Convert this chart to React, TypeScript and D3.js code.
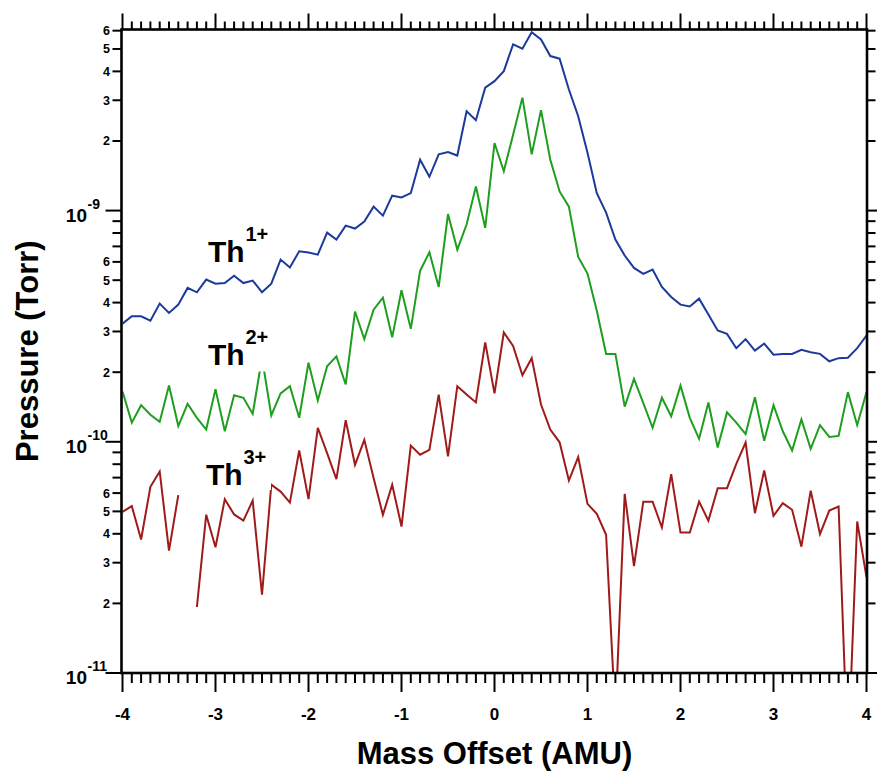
import React from 'react';
import * as d3 from 'd3';

const WIDTH = 877;
const HEIGHT = 773;

// Mass offset grid (AMU), one sample every 0.1 AMU from -4 to 4
const massOffset: number[] = d3.range(81).map((i) => Math.round((-4 + i * 0.1) * 10) / 10);

// Partial pressure of each thorium charge state (Torr)
const th1Pressure: number[] = [
  3.24e-10, 3.49e-10, 3.49e-10, 3.34e-10, 3.96e-10, 3.61e-10, 3.92e-10, 4.63e-10, 4.43e-10, 5.03e-10,
  4.83e-10, 4.86e-10, 5.23e-10, 4.86e-10, 4.98e-10, 4.43e-10, 4.83e-10, 6.14e-10, 5.67e-10, 6.67e-10,
  6.58e-10, 6.45e-10, 8.03e-10, 7.49e-10, 8.61e-10, 8.36e-10, 8.96e-10, 1.04e-9, 9.51e-10, 1.16e-9,
  1.14e-9, 1.19e-9, 1.66e-9, 1.4e-9, 1.75e-9, 1.79e-9, 1.73e-9, 2.69e-9, 2.46e-9, 3.4e-9,
  3.63e-9, 4.01e-9, 5.23e-9, 5.01e-9, 5.91e-9, 5.5e-9, 4.66e-9, 4.54e-9, 3.34e-9, 2.56e-9,
  1.78e-9, 1.19e-9, 9.8e-10, 7.49e-10, 6.39e-10, 5.65e-10, 5.32e-10, 5.56e-10, 4.67e-10, 4.23e-10,
  3.92e-10, 3.85e-10, 4.16e-10, 3.55e-10, 3.03e-10, 2.93e-10, 2.54e-10, 2.78e-10, 2.48e-10, 2.66e-10,
  2.38e-10, 2.4e-10, 2.4e-10, 2.5e-10, 2.44e-10, 2.4e-10, 2.23e-10, 2.3e-10, 2.31e-10, 2.54e-10,
  2.88e-10,
];

const th2Pressure: number[] = [
  1.65e-10, 1.21e-10, 1.44e-10, 1.31e-10, 1.22e-10, 1.75e-10, 1.17e-10, 1.46e-10, 1.27e-10, 1.13e-10,
  1.69e-10, 1.11e-10, 1.59e-10, 1.55e-10, 1.32e-10, 2.31e-10, 1.3e-10, 1.62e-10, 1.74e-10, 1.27e-10,
  2.2e-10, 1.51e-10, 2.12e-10, 2.34e-10, 1.77e-10, 3.66e-10, 2.78e-10, 3.73e-10, 4.2e-10, 2.83e-10,
  4.52e-10, 3.08e-10, 5.49e-10, 6.6e-10, 4.67e-10, 9.66e-10, 6.78e-10, 8.7e-10, 1.27e-9, 8.42e-10,
  1.96e-9, 1.48e-9, 2.13e-9, 3.08e-9, 1.75e-9, 2.72e-9, 1.66e-9, 1.21e-9, 1.04e-9, 6.3e-10,
  5.34e-10, 3.69e-10, 2.4e-10, 2.4e-10, 1.42e-10, 1.87e-10, 1.47e-10, 1.15e-10, 1.55e-10, 1.29e-10,
  1.75e-10, 1.27e-10, 1.03e-10, 1.48e-10, 9.45e-11, 1.34e-10, 1.21e-10, 1.08e-10, 1.56e-10, 1.01e-10,
  1.44e-10, 1.11e-10, 9.17e-11, 1.25e-10, 9.33e-11, 1.18e-10, 1.05e-10, 1.06e-10, 1.64e-10, 1.18e-10,
  1.64e-10,
];

// null marks a sample with no positive reading
const th3Pressure: (number | null)[] = [
  4.98e-11, 5.27e-11, 3.78e-11, 6.39e-11, 7.44e-11, 3.38e-11, 5.88e-11, null, 1.93e-11, 4.84e-11,
  3.5e-11, 5.65e-11, 4.85e-11, 4.56e-11, 5.57e-11, 2.18e-11, 6.52e-11, 6.09e-11, 5.46e-11, 9.17e-11,
  5.65e-11, 1.15e-10, 8.94e-11, 6.9e-11, 1.24e-10, 7.95e-11, 1.02e-10, 6.97e-11, 4.83e-11, 6.52e-11,
  4.3e-11, 9.63e-11, 8.79e-11, 9.23e-11, 1.6e-10, 8.64e-11, 1.74e-10, 1.6e-10, 1.48e-10, 2.69e-10,
  1.62e-10, 2.97e-10, 2.6e-10, 1.94e-10, 2.3e-10, 1.45e-10, 1.13e-10, 9.95e-11, 6.8e-11, 8.59e-11,
  5.39e-11, 4.88e-11, 3.96e-11, 6.4e-12, 5.96e-11, 2.9e-11, 5.51e-11, 5.51e-11, 4.26e-11, 7.25e-11,
  4.05e-11, 4.05e-11, 5.51e-11, 4.56e-11, 6.3e-11, 6.3e-11, 8.03e-11, 9.93e-11, 4.91e-11, 7.51e-11,
  4.78e-11, 5.43e-11, 5.08e-11, 3.52e-11, 6.15e-11, 3.99e-11, 5.04e-11, 5.25e-11, 4.2e-12, 4.52e-11,
  2.6e-11,
];

const xTickValues: number[] = [-4, -3, -2, -1, 0, 1, 2, 3, 4];
const labelledMantissas: number[] = [2, 3, 4, 5, 6];
const chargeStates: string[] = ['1+', '2+', '3+'];

const FONT = '"Liberation Sans", Arial, Helvetica, sans-serif';

export default function App() {
  const left = 122.5;
  const right = 866.5;
  const top = 29.5;
  const bottom = 673;

  const x = d3.scaleLinear().domain([-4, 4]).range([left, right]);
  const y = d3.scaleLog().domain([1e-11, 6.07e-9]).range([bottom, top]);

  const line = d3
    .line<number | null>()
    .defined((d) => d != null && d > 0)
    .x((_, i) => x(massOffset[i]))
    .y((d) => y(d as number));

  const series = [
    { values: th1Pressure as (number | null)[], color: '#1b3a9c' },
    { values: th2Pressure as (number | null)[], color: '#1e9e1e' },
    { values: th3Pressure, color: '#a01a1a' },
  ];

  const yTicks = y.ticks();
  const minorX = d3.range(81).map((i) => -4 + i * 0.1);

  const labelPos = [
    { x: 208, y: 262, box: [203, 228, 72, 40] },
    { x: 208, y: 365, box: [203, 331, 72, 40.5] },
    { x: 206, y: 485, box: [201, 450, 70, 40] },
  ];

  return (
    <svg
      width={WIDTH}
      height={HEIGHT}
      style={{ position: 'absolute', left: 0, top: 0, background: '#fff' }}
      fontFamily={FONT}
    >
      <defs>
        <clipPath id="plot-area">
          <rect x={left} y={top} width={right - left} height={bottom - top} />
        </clipPath>
      </defs>
      <rect x={0} y={0} width={WIDTH} height={HEIGHT} fill="#fff" />

      {/* data lines */}
      <g clipPath="url(#plot-area)">
        {series.map((s, k) => (
          <path
            key={k}
            d={line(s.values) ?? ''}
            fill="none"
            stroke={s.color}
            strokeWidth={2}
            strokeLinejoin="miter"
          />
        ))}
      </g>

      {/* series labels with opaque backgrounds */}
      {chargeStates.map((c, k) => {
        const p = labelPos[k];
        return (
          <g key={c}>
            <rect x={p.box[0]} y={p.box[1]} width={p.box[2]} height={p.box[3]} fill="#fff" />
            <text x={p.x} y={p.y} fontSize={30} fontWeight="bold" fill="#000">
              Th
            </text>
            <text x={p.x + 37.5} y={p.y - 21} fontSize={20} fontWeight="bold" fill="#000">
              {c}
            </text>
          </g>
        );
      })}

      {/* frame */}
      <rect
        x={left - 1}
        y={top}
        width={right - left + 1.5}
        height={bottom - top}
        fill="none"
        stroke="#000"
        strokeWidth={2.6}
      />

      {/* bottom and top ticks */}
      {minorX.map((v, i) => {
        const major = i % 10 === 0;
        const xx = x(v);
        return (
          <g key={`xt${i}`} stroke="#000" strokeWidth={2}>
            <line x1={xx} x2={xx} y1={bottom} y2={bottom + (major ? 19 : 10)} />
            <line x1={xx} x2={xx} y1={top} y2={top - (major ? 16 : 8)} />
          </g>
        );
      })}
      {xTickValues.map((v) => (
        <text
          key={`xl${v}`}
          x={x(v)}
          y={720}
          textAnchor="middle"
          fontSize={17}
          fontWeight="bold"
        >
          {v}
        </text>
      ))}

      {/* left and right log ticks */}
      {yTicks.map((v, i) => {
        const exp = Math.floor(Math.log10(v) + 1e-9);
        const mant = Math.round(v / Math.pow(10, exp));
        const yy = y(v);
        const major = mant === 1;
        return (
          <g key={`yt${i}`}>
            <line x1={left - 1} x2={left - 1 - (major ? 16 : 9)} y1={yy} y2={yy} stroke="#000" strokeWidth={2} />
            <line x1={right} x2={right + (major ? 16 : 9)} y1={yy} y2={yy} stroke="#000" strokeWidth={2} />
            {major ? (
              <g fontWeight="bold">
                <text x={87} y={yy + 11} textAnchor="end" fontSize={19}>
                  10
                </text>
                <text x={87.5} y={yy - 2} fontSize={14}>
                  {exp}
                </text>
              </g>
            ) : labelledMantissas.includes(mant) ? (
              <text x={110} y={yy + 4.5} textAnchor="end" fontSize={12.5} fontWeight="bold">
                {mant}
              </text>
            ) : null}
          </g>
        );
      })}

      {/* axis titles */}
      <text x={x(0)} y={764} textAnchor="middle" fontSize={31} fontWeight="bold">
        Mass Offset (AMU)
      </text>
      <text
        transform={`translate(38, ${(top + bottom) / 2}) rotate(-90)`}
        textAnchor="middle"
        fontSize={31}
        fontWeight="bold"
      >
        Pressure (Torr)
      </text>
    </svg>
  );
}
